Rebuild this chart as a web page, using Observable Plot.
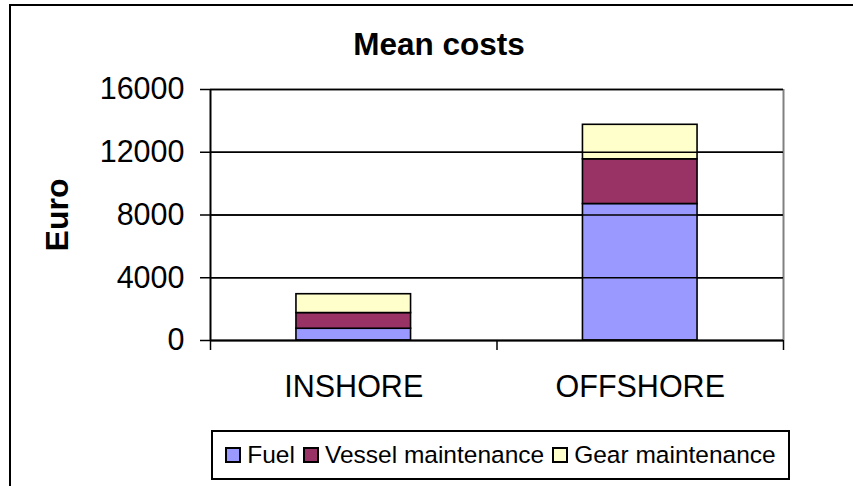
<!DOCTYPE html>
<html>
<head>
<meta charset="utf-8">
<script src="https://cdn.jsdelivr.net/npm/d3@7"></script>
<script src="https://cdn.jsdelivr.net/npm/@observablehq/plot@0.6"></script>
<style>
  html, body { margin: 0; padding: 0; background: #fff; }
  #wrap { position: relative; width: 853px; height: 486px; overflow: hidden; font-family: "Liberation Sans", Arial, sans-serif; }
  #frame { position: absolute; left: 9px; top: 4px; width: 860px; height: 500px; border-left: 2px solid #000; border-top: 2px solid #000; }
  #title { position: absolute; left: 0; width: 878px; top: 27px; text-align: center; font-weight: bold; font-size: 31.5px; line-height: 34px; }
  #ylabel { position: absolute; left: 57px; top: 215px; transform: translate(-50%, -50%) rotate(-90deg); font-weight: bold; font-size: 32px; white-space: nowrap; }
  #chart { position: absolute; left: 0; top: 0; }
  #legend { position: absolute; left: 211px; top: 430px; width: 575px; height: 46px; border: 2px solid #000; display: flex; align-items: center; justify-content: center; font-size: 24.5px; white-space: nowrap; }
  .item { display: flex; align-items: center; margin: 0 4px; }
  .sw { width: 12px; height: 12px; border: 2px solid #000; margin-right: 6px; box-sizing: content-box; }
</style>
</head>
<body>
<div id="wrap">
  <div id="frame"></div>
  <div id="chart"></div>
  <div id="title">Mean costs</div>
  <div id="ylabel">Euro</div>
  <div id="legend"></div>
</div>
<script>
const categories = ["INSHORE", "OFFSHORE"];
const series = ["Fuel", "Vessel maintenance", "Gear maintenance"];
const colors = ["#9999FF", "#993366", "#FFFFCC"];
const fuel = [750, 8700];
const vessel = [1000, 2850];
const gear = [1200, 2200];
const yTicks = [0, 4000, 8000, 12000, 16000];

const valuesBySeries = [fuel, vessel, gear];
const rows = [];
categories.forEach((c, i) => {
  let acc = 0;
  series.forEach((s, k) => {
    const v = valuesBySeries[k][i];
    rows.push({category: c, i, series: s, y1: acc, y2: acc + v});
    acc += v;
  });
});

const chart = Plot.plot({
  width: 853,
  height: 420,
  marginLeft: 210,
  marginRight: 70,
  marginTop: 89,
  marginBottom: 80,
  style: {fontFamily: "'Liberation Sans', Arial, sans-serif", fontSize: "30px", color: "#000", background: "transparent", overflow: "visible"},
  x: {domain: [0, categories.length], axis: null},
  y: {domain: [0, 16000], axis: null},
  color: {domain: series, range: colors},
  marks: [
    Plot.ruleY(yTicks.filter(t => t > 0 && t < 16000), {stroke: "#000", strokeWidth: 1.3}),
    Plot.ruleY([16000], {stroke: "#808080", strokeWidth: 2}),
    Plot.ruleX([categories.length], {stroke: "#808080", strokeWidth: 2}),
    Plot.rect(rows, {x1: d => d.i + 0.3, x2: d => d.i + 0.7, y1: "y1", y2: "y2", fill: "series", stroke: "#000", strokeWidth: 1.6}),
    Plot.ruleY([0], {stroke: "#000", strokeWidth: 2}),
    Plot.ruleX([0], {stroke: "#000", strokeWidth: 2}),
    Plot.axisY({ticks: yTicks, tickSize: 10, tickPadding: 16, tickFormat: d => String(d), strokeWidth: 1.5, fontSize: 30.5}),
    Plot.tickY(yTicks, {x1: 0, x2: 0.01, stroke: "#000", strokeWidth: 1.5}),
    Plot.axisX({ticks: d3.range(categories.length + 1), tickSize: 10, tickFormat: () => "", strokeWidth: 1.5}),
    Plot.axisX({ticks: categories.map((c, i) => i + 0.5), tickSize: 0, tickPadding: 35, tickFormat: v => categories[Math.floor(v)], fontSize: 30.5})
  ]
});
document.getElementById("chart").appendChild(chart);

const legend = document.getElementById("legend");
series.forEach((s, k) => {
  const it = document.createElement("div");
  it.className = "item";
  const sw = document.createElement("div");
  sw.className = "sw";
  sw.style.background = colors[k];
  const t = document.createElement("span");
  t.textContent = s;
  it.appendChild(sw);
  it.appendChild(t);
  legend.appendChild(it);
});
</script>
</body>
</html>
